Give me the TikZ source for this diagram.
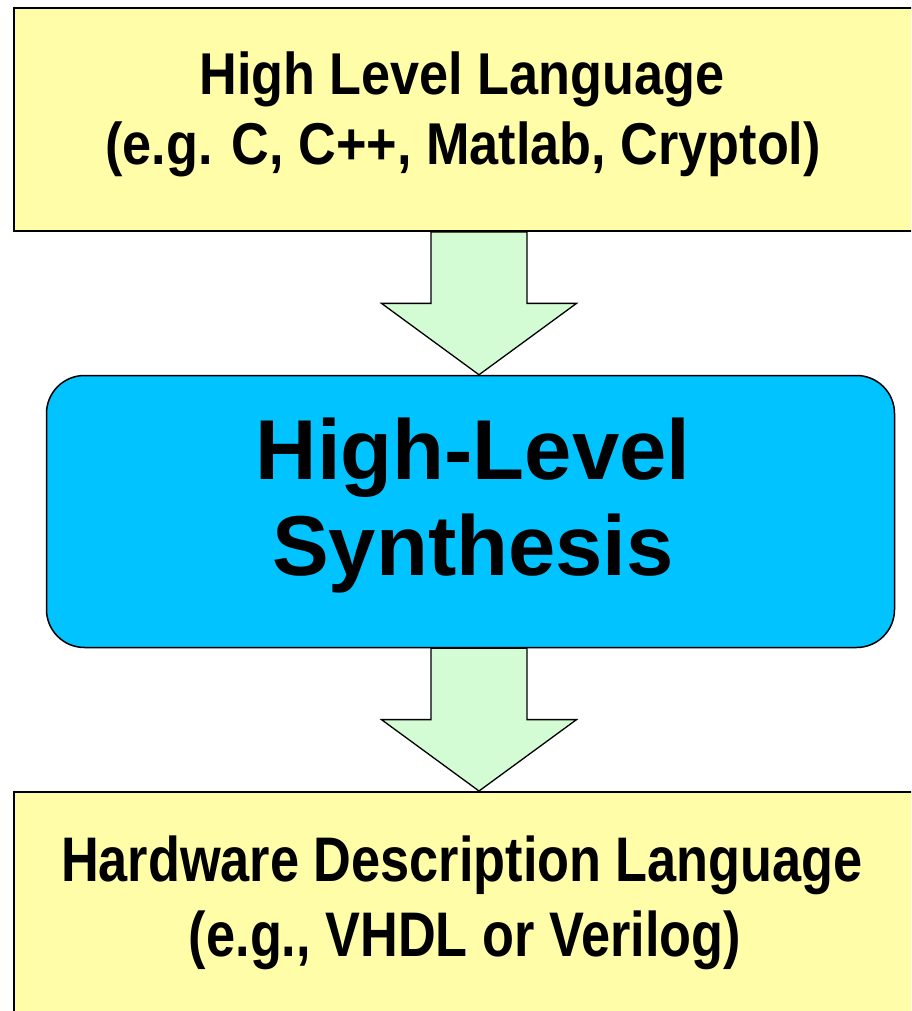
\documentclass[tikz,border=0pt]{standalone}
\usepackage{fontspec}
\setmainfont{Liberation Sans}
\newfontfamily\narrowA[FakeStretch=0.885]{Liberation Sans}
\newfontfamily\narrowB[FakeStretch=0.83]{Liberation Sans}
\usetikzlibrary{calc}
\definecolor{paleyellow}{RGB}{255,253,168}
\definecolor{palegreen}{RGB}{212,252,212}
\definecolor{hlsblue}{RGB}{0,195,255}
\tikzset{
  langbox/.style={draw=black, line width=2pt, fill=paleyellow, rectangle, inner sep=0pt},
  hlsbox/.style={draw=black, line width=1.5pt, fill=hlsblue, rectangle, rounded corners=38pt, inner sep=0pt},
  fatarrow/.style={draw=black, line width=1.3pt, fill=palegreen, line join=miter},
  toptext/.style={anchor=base, inner sep=0pt, font=\narrowA\bfseries\fontsize{59}{70}\selectfont},
  bottext/.style={anchor=base, inner sep=0pt, font=\narrowB\bfseries\fontsize{63}{75}\selectfont},
  midtext/.style={anchor=base, inner sep=0pt, font=\bfseries\fontsize{85}{96}\selectfont}
}
% thick block arrow pointing from #1 down to #2, head starting halfway
\newcommand\blockarrow[2]{%
  \draw[fatarrow] ($(#1)+(-48,0)$) -- ($(#1)+(48,0)$)
    -- ($(#1)!0.5!(#2)+(48,0)$) -- ($(#1)!0.5!(#2)+(97.5,0)$)
    -- (#2)
    -- ($(#1)!0.5!(#2)+(-97.5,0)$) -- ($(#1)!0.5!(#2)+(-48,0)$) -- cycle;}
\begin{document}
\begin{tikzpicture}[x=1pt, y=-1pt]
  \useasboundingbox (0,0) rectangle (911,1011);
  \clip (0,0) rectangle (911,1011);

  % source language box (runs past the right edge)
  \node[langbox, minimum width=910pt, minimum height=223pt] (hll) at (469,119.5) {};
  \node[toptext] (hll1) at (462,95) {High Level Language};
  \node[toptext] (hll2) at (463,165) {(e.g. C, C++, Matlab, Cryptol)};

  % synthesis step
  \node[hlsbox, minimum width=848pt, minimum height=272pt] (hls) at (470.5,511.5) {};
  \node[midtext] (hls1) at (473,479) {High-Level};
  \node[midtext] (hls2) at (473,575) {Synthesis};

  % target language box (runs past the right and bottom edges)
  \node[langbox, minimum width=910pt, minimum height=260pt] (hdl) at (469,922) {};
  \node[bottext] (hdl1) at (462,881.7) {Hardware Description Language};
  \node[bottext] (hdl2) at (465,956.7) {(e.g., VHDL or Verilog)};

  % flow arrows between the boxes
  \coordinate (axis) at (479,0);
  \path (hll.south -| axis) coordinate (a1s) (hls.north -| axis) coordinate (a1e);
  \path (hls.south -| axis) coordinate (a2s) (hdl.north -| axis) coordinate (a2e);
  \blockarrow{a1s}{a1e}
  \blockarrow{a2s}{a2e}
\end{tikzpicture}
\end{document}
